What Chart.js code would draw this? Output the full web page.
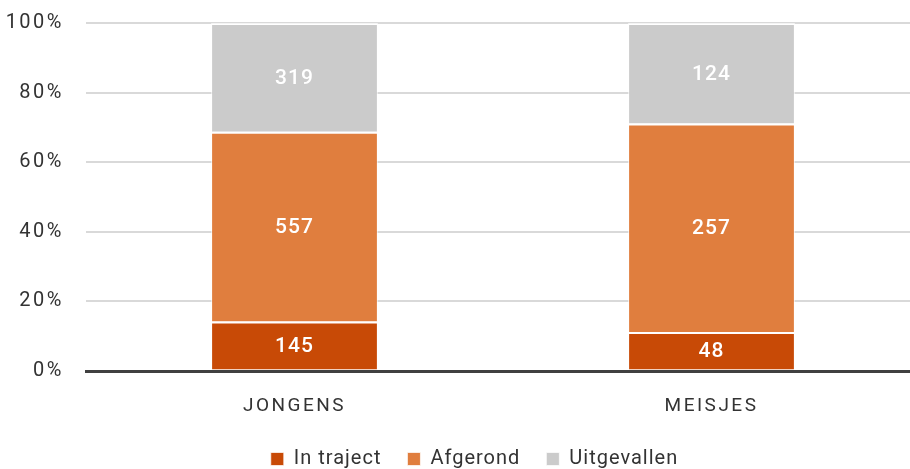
<!DOCTYPE html>
<html>
<head>
<meta charset="utf-8">
<script src="https://cdn.jsdelivr.net/npm/chart.js@4.4.1/dist/chart.umd.min.js"></script>
<style>
  html, body { margin: 0; padding: 0; background: #fff; overflow: hidden; }
  #wrap { width: 925px; height: 469px; }
</style>
</head>
<body>
<div id="wrap"><canvas id="chart"></canvas></div>
<script>
// categorieën en aantallen
const categorieen = ['JONGENS', 'MEISJES'];
const inTraject = [145, 48];
const afgerond = [557, 257];
const uitgevallen = [319, 124];
const yTicks = [0, 20, 40, 60, 80, 100];

const totalen = categorieen.map((c, i) => inTraject[i] + afgerond[i] + uitgevallen[i]);
const pct = arr => arr.map((v, i) => v / totalen[i] * 100);

const FONT = 'Roboto, "DejaVu Sans", sans-serif';

// aantallen midden in de segmenten
const waardeLabels = {
  id: 'waardeLabels',
  afterDatasetsDraw(chart) {
    const ctx = chart.ctx;
    ctx.save();
    ctx.letterSpacing = '1px';
    ctx.fillStyle = '#ffffff';
    ctx.font = '500 21px ' + FONT;
    ctx.textAlign = 'center';
    ctx.textBaseline = 'middle';
    chart.data.datasets.forEach((ds, di) => {
      chart.getDatasetMeta(di).data.forEach((bar, i) => {
        const mid = (bar.y + bar.base) / 2;
        ctx.fillText(ds.counts[i], bar.x, mid + 1);
      });
    });
    ctx.restore();
  }
};

// letterafstand (assen iets ruimer dan legenda)
const spacing = {
  id: 'spacing',
  beforeInit(chart) { chart.ctx.letterSpacing = '1px'; },
  beforeLayout(chart) {
    ['x', 'y'].forEach(id => {
      const s = chart.scales[id];
      if (!s || s._ruim) return;
      const orig = s.draw.bind(s);
      s.draw = function (area) {
        chart.ctx.letterSpacing = '2.5px';
        orig(area);
        chart.ctx.letterSpacing = '1px';
      };
      s._ruim = true;
    });
  },
  beforeDraw(chart) { chart.ctx.letterSpacing = '1px'; }
};

new Chart(document.getElementById('chart'), {
  type: 'bar',
  data: {
    labels: categorieen,
    datasets: [
      { label: 'In traject', data: pct(inTraject), counts: inTraject, backgroundColor: '#C84A06' },
      { label: 'Afgerond', data: pct(afgerond), counts: afgerond, backgroundColor: '#E07E3E' },
      { label: 'Uitgevallen', data: pct(uitgevallen), counts: uitgevallen, backgroundColor: '#CBCBCB' }
    ].map(d => Object.assign(d, {
      borderColor: 'rgba(255,255,255,0.7)',
      borderWidth: { top: 2, bottom: 0, left: 1, right: 1 },
      borderSkipped: false,
      barPercentage: 0.4,
      categoryPercentage: 1
    }))
  },
  options: {
    responsive: true,
    maintainAspectRatio: false,
    animation: false,
    layout: { padding: { top: 23, right: 5, left: 0, bottom: -10 } },
    scales: {
      x: {
        stacked: true,
        afterFit(scale) { scale.height = 52; },
        grid: { display: false, drawTicks: false },
        border: { display: true, color: '#404040', width: 3 },
        ticks: { color: '#333', font: { family: FONT, size: 19 }, padding: 24 }
      },
      y: {
        stacked: true,
        min: 0,
        max: 100,
        afterBuildTicks(scale) { scale.ticks = yTicks.map(v => ({ value: v })); },
        afterFit(scale) { scale.width = 86; scale.paddingTop = 12; scale.paddingBottom = 0; },
        grid: {
          color: c => c.tick && c.tick.value === 0 ? '#404040' : '#d9d9d9',
          lineWidth: c => c.tick && c.tick.value === 0 ? 3 : 2,
          drawTicks: false
        },
        border: { display: false },
        ticks: {
          color: '#333',
          font: { family: FONT, size: 20 },
          padding: 22,
          callback: v => v + '%'
        }
      }
    },
    plugins: {
      legend: {
        position: 'bottom',
        labels: {
          color: '#333',
          font: { family: FONT, size: 20 },
          boxWidth: 13,
          boxHeight: 13,
          padding: 26
        }
      },
      tooltip: { enabled: false }
    }
  },
  plugins: [spacing, waardeLabels]
});
</script>
</body>
</html>
